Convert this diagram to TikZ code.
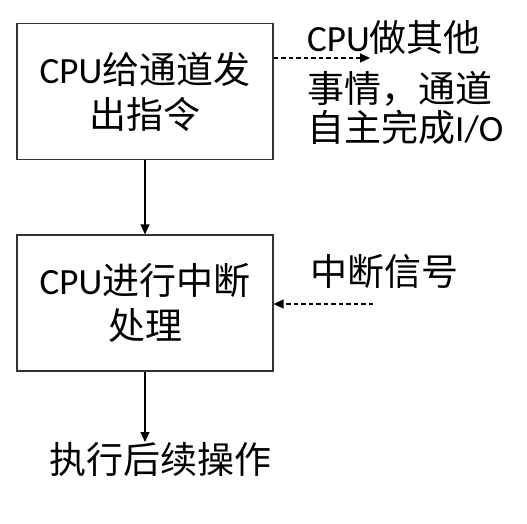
\documentclass[tikz,border=0pt]{standalone}
\usepackage{fontspec}
\setmainfont{Carlito}
\newfontfamily\cjk{Noto Sans CJK SC}
\usetikzlibrary{arrows.meta}
\tikzset{
  x=1pt,y=1pt,
  box/.style={draw=black!80, line width=1.2pt, minimum width=256pt, minimum height=136pt, align=center, inner sep=0pt, font=\fontsize{37}{45}\selectfont},
  lbl/.style={inner sep=0pt, font=\fontsize{37}{39}\selectfont},
  arr/.style={line width=1.2pt, -{Triangle[length=10pt,width=9pt]}},
  darr/.style={arr, dash pattern=on 4.5pt off 3pt}
}
\begin{document}
\begin{tikzpicture}
\useasboundingbox (0,0) rectangle (527,523);
\node[box] (b1) at (145,431.5) {CPU{\cjk 给通道发}\\{\cjk 出指令}};
\node[box] (b2) at (145,220) {CPU{\cjk 进行中断}\\{\cjk 处理}};
\node[lbl, align=left, anchor=west] (t1) at (307,440) {CPU{\cjk 做其他}\\[12pt]{\cjk 事情，通道}\\{\cjk 自主完成}I/O};
\node[lbl, anchor=west] (t2) at (310,252) {\cjk 中断信号};
\node[lbl, anchor=north] (t3) at (160,81) {\cjk 执行后续操作};
\coordinate (c1) at (370,465);
\coordinate (c2) at (373,219);
\draw[arr] (b1.south) -- (b2.north);
\draw[arr] (b2.south) -- (b2.south |- t3.north);
\draw[darr] (b1.east |- c1) -- (c1);
\draw[darr] (c2) -- (b2.east |- c2);
\end{tikzpicture}
\end{document}
